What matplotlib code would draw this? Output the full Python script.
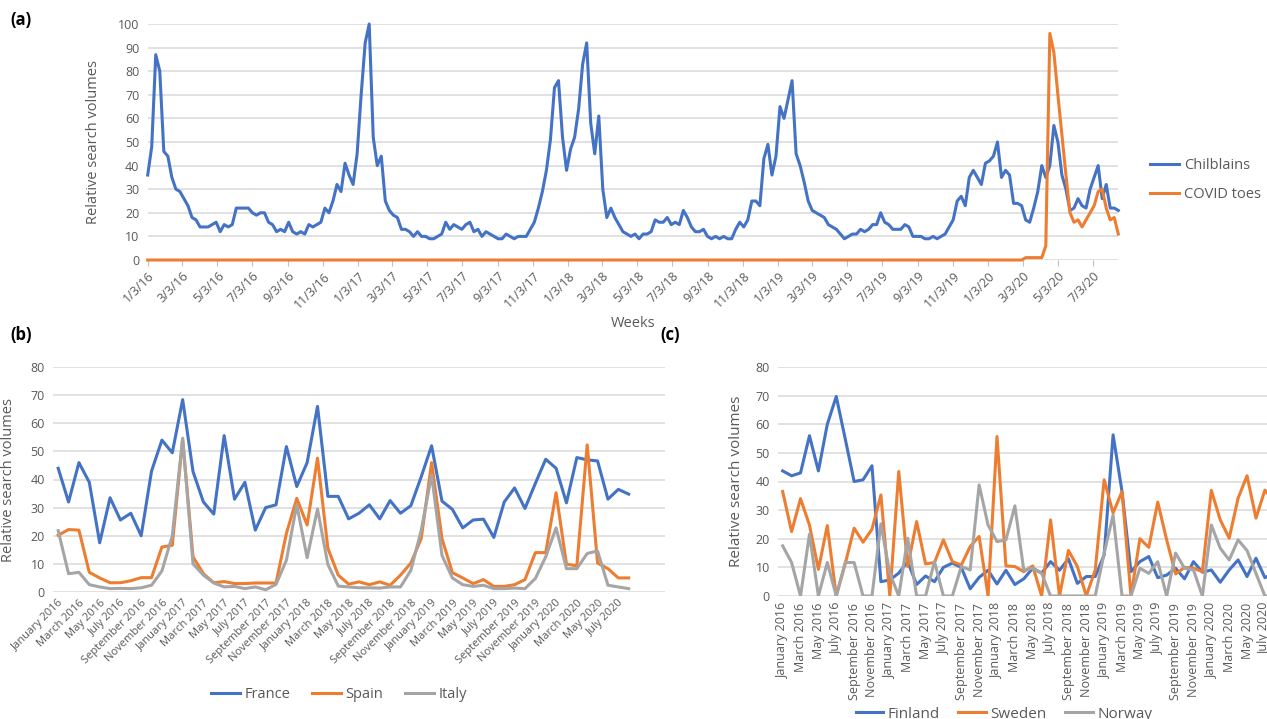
import matplotlib
matplotlib.use("Agg")
import matplotlib.pyplot as plt
import pandas as pd

plt.rcParams['font.family'] = ['Open Sans', 'DejaVu Sans']

W, H = 1267, 719
BLUE = '#4472C4'
ORANGE = '#ED7D31'
GRAY = '#A5A5A5'
GRID = '#D9D9D9'
TXT = '#595959'

# ---------------- Panel (a): weekly data ----------------
week_start = '2016-01-03'
chilblains = [
    36, 48, 87, 80, 46, 44, 35, 30, 29, 26, 23, 18, 17, 14, 14, 14, 15, 16, 12, 15,
    14, 15, 22, 22, 22, 22, 20, 19, 20, 20, 16, 15, 12, 13, 12, 16, 12, 11, 12, 11,
    15, 14, 15, 16, 22, 20, 25, 32,
    29, 41, 36, 32, 45, 70, 92, 100, 52, 40, 44, 25, 21, 19, 18, 13, 13, 12, 10, 12,
    10, 10, 9, 9, 10, 11, 16, 13, 15, 14, 13, 15, 16, 12, 13, 10, 12, 11, 10, 9,
    9, 11, 10, 9, 10, 10, 10, 13,
    16, 22, 29, 38, 51, 73, 76, 52, 38, 47, 52, 64, 83,
    92, 58, 45, 61, 30, 18, 22, 18, 15, 12, 11, 10, 11, 9, 11, 11, 12, 17, 16, 16,
    18, 15, 16, 15, 21, 18, 14, 12, 12, 13, 10, 9, 10, 9, 10, 9,
    9, 13, 16, 14, 17, 25, 25, 23, 43, 49, 36, 44, 65, 60, 68, 76, 45, 40, 33, 25,
    21, 20, 19, 18, 15, 14, 13, 11, 9, 10, 11, 11, 13, 12, 13, 15, 15, 20, 16, 15,
    13, 13, 13, 15, 14, 10, 10, 10, 9,
    9, 10, 9, 10, 11, 14, 17, 25, 27, 23, 35, 38, 35, 32, 41, 42, 44, 50, 35, 38,
    36, 24, 24, 23, 17, 16, 22, 29, 40, 35, 40, 57, 50, 36, 30, 21, 22, 26, 23, 22,
    30, 35, 40, 26, 32, 22, 22, 21,
]
covid_toes = [
    0, 0, 0, 0, 0, 0, 0, 0, 0, 0, 0, 0, 0, 0, 0, 0, 0, 0, 0, 0,
    0, 0, 0, 0, 0, 0, 0, 0, 0, 0, 0, 0, 0, 0, 0, 0, 0, 0, 0, 0,
    0, 0, 0, 0, 0, 0, 0, 0, 0, 0, 0, 0, 0, 0, 0, 0, 0, 0, 0, 0,
    0, 0, 0, 0, 0, 0, 0, 0, 0, 0, 0, 0, 0, 0, 0, 0, 0, 0, 0, 0,
    0, 0, 0, 0, 0, 0, 0, 0, 0, 0, 0, 0, 0, 0, 0, 0, 0, 0, 0, 0,
    0, 0, 0, 0, 0, 0, 0, 0, 0, 0, 0, 0, 0, 0, 0, 0, 0, 0, 0, 0,
    0, 0, 0, 0, 0, 0, 0, 0, 0, 0, 0, 0, 0, 0, 0, 0, 0, 0, 0, 0,
    0, 0, 0, 0, 0, 0, 0, 0, 0, 0, 0, 0, 0, 0, 0, 0, 0, 0, 0, 0,
    0, 0, 0, 0, 0, 0, 0, 0, 0, 0, 0, 0, 0, 0, 0, 0, 0, 0, 0, 0,
    0, 0, 0, 0, 0, 0, 0, 0, 0, 0, 0, 0, 0, 0, 0, 0, 0, 0, 0, 0,
    0, 0, 0, 0, 0, 0, 0, 0, 0, 0, 0, 0, 0, 0, 0, 0, 0, 0,
    1, 1, 1, 1, 1, 6, 96, 88, 70, 53, 36, 20, 16, 17, 14, 17, 20, 23, 29, 30,
    22, 17, 18, 11,
]

# ---------------- Panel (b): monthly, southern Europe ----------------
month_start_b = '2016-01-01'
france = [44, 32, 46, 39, 17.5, 33.5, 25.6, 28, 20, 43, 54, 49.5, 68.4, 42.8, 32, 27.7,
          55.6, 33, 39, 22, 30, 31, 51.7, 37.5, 46, 66, 34, 34, 26, 28, 31, 26, 32.5, 28,
          30.7, 41, 52, 32.3, 29.4, 22.8, 25.6, 25.9, 19.4, 32, 37, 29.7, 38.6, 47.2, 44,
          31.7, 47.8, 47, 46.6, 33, 36.5, 34.8]
spain = [20.2, 22.2, 22, 7, 5, 3.3, 3.3, 4, 5.1, 5.1, 16, 16.6, 54.3, 12.5, 6.5, 3.3,
         3.7, 3, 3, 3.2, 3.2, 3.2, 20.8, 33.3, 23.8, 47.6, 15.5, 6, 2.8, 3.6, 2.6, 3.6,
         2.4, 6, 10.3, 19, 46, 19, 6.9, 5, 3, 4.4, 2, 2, 2.6, 4.4, 14, 14, 35.3, 9.9,
         9.3, 52.3, 10.3, 8.3, 5, 5]
italy = [21.8, 6.5, 7, 2.6, 1.8, 1.2, 1.3, 1.2, 1.5, 2.4, 7.5, 20, 54.7, 10, 6, 3.2,
         1.8, 2, 1.2, 1.8, 0.8, 2.7, 11.3, 31, 12.2, 29.5, 9.8, 2.1, 1.8, 1.5, 1.5, 1.4,
         1.8, 1.8, 7.7, 22, 41.6, 13, 5, 2.6, 2, 2.4, 1.2, 1.2, 1.4, 1.2, 4.8, 12.5,
         22.8, 8.3, 8.3, 13.7, 14.6, 2.4, 1.8, 1.2]

# ---------------- Panel (c): monthly, Nordic ----------------
month_start_c = '2016-01-01'
finland = [43.7, 42, 43, 56, 43.7, 60, 69.7, 55, 40, 40.6, 45.5, 5, 5.6, 8, 12, 4, 7, 5,
           10, 11.5, 10, 2.5, 6.5, 9, 4.2, 9, 4, 6, 9.7, 8, 12, 9, 13, 4.4, 6.8, 6.8,
           14.3, 56.3, 36.5, 8.5, 12, 13.8, 6.4, 7.3, 9.7, 6, 12, 8.3, 9.1, 4.8, 9.1,
           12.6, 6.8, 13.2, 6.4, 8]
sweden = [36.5, 22.5, 34, 24.8, 9.3, 24.6, 0, 11.2, 23.7, 18.8, 23.3, 35.3, 0, 43.5,
          10.3, 26, 11.2, 11.7, 19.6, 12, 10.8, 17.3, 20.8, 0, 55.7, 10.5, 10.3, 8.5,
          10.5, 0, 26.6, 0, 15.9, 10.3, 0, 9.1, 40.6, 29, 36.5, 0, 20, 17, 32.8, 19.6,
          7.7, 10, 9.7, 8.5, 36.9, 26.6, 20.2, 34.2, 42, 27.2, 37, 33]
norway = [17.5, 11.7, 0, 21.6, 0, 11.7, 0, 11.7, 11.7, 0, 0, 25.2, 7.9, 0, 20.2, 0, 0,
          12, 0, 0, 10.3, 9.1, 38.8, 24.8, 19, 19.6, 31.5, 9, 9.7, 7.9, 0, 0, 0, 0, 0,
          0, 15, 28.3, 0, 0, 9.7, 7.9, 12, 0, 15, 9.7, 9.1, 0, 24.8, 16.7, 12.6, 19.6,
          15.9, 7.9, 0, 0]

ylabel = 'Relative search volumes'

fig = plt.figure(figsize=(W / 100, H / 100), dpi=100)
fig.patch.set_facecolor('white')


def px_axes(left, top, right, bottom):
    return fig.add_axes([left / W, 1 - bottom / H, (right - left) / W, (bottom - top) / H])


def style(ax, ymax, ystep, fs):
    ax.set_ylim(0, ymax)
    ax.set_yticks(range(0, ymax + 1, ystep))
    ax.grid(axis='y', color=GRID, linewidth=1.1)
    ax.set_axisbelow(True)
    for s in ax.spines.values():
        s.set_visible(False)
    ax.tick_params(axis='y', length=0, labelsize=fs, labelcolor=TXT, pad=6)


# ---- (a)
weeks = pd.date_range(week_start, periods=len(chilblains), freq='7D')
ax_a = px_axes(147.7, 24, 1118.3, 260)
style(ax_a, 100, 10, 9)
ax_a.set_xlim(weeks[0], weeks[-1])
ax_a.plot(weeks, chilblains, color=BLUE, lw=2.2, label='Chilblains', clip_on=False,
          solid_joinstyle='round')
ax_a.plot(weeks, covid_toes, color=ORANGE, lw=2.2, label='COVID toes', clip_on=False,
          solid_joinstyle='round')
a_ticks = [pd.Timestamp(y, m, 3) for y in range(2016, 2021) for m in (1, 3, 5, 7, 9, 11)
           if pd.Timestamp(y, m, 3) <= weeks[-1]]
ax_a.set_xticks(a_ticks)
ax_a.set_xticklabels([f"{d.month}/{d.day}/{d.year % 100:02d}" for d in a_ticks],
                     rotation=45, ha='right', va='top', rotation_mode='anchor')
ax_a.tick_params(axis='x', length=4, color='#BFBFBF', labelsize=9, labelcolor=TXT, pad=3)
ax_a.set_ylabel(ylabel, fontsize=10.5, color=TXT, labelpad=12)
ax_a.set_xlabel('Weeks', fontsize=10.5, color=TXT, labelpad=4)
ax_a.legend(loc='center left', bbox_to_anchor=(1137 / W, 1 - 180 / H),
            bbox_transform=fig.transFigure, frameon=False, fontsize=10.5,
            labelcolor=TXT, handlelength=2.0, handletextpad=0.3, labelspacing=0.95)

# ---- (b)
months_b = pd.date_range(month_start_b, periods=len(france), freq='MS')
labels_b = [d.strftime('%B %Y') for d in months_b]
xb = list(range(len(france)))
ax_b = px_axes(53, 367, 665, 592)
style(ax_b, 80, 10, 9)
ax_b.set_xlim(-0.5, 58.5)
ax_b.plot(xb, france, color=BLUE, lw=2.2, label='France', solid_joinstyle='round')
ax_b.plot(xb, spain, color=ORANGE, lw=2.2, label='Spain', solid_joinstyle='round')
ax_b.plot(xb, italy, color=GRAY, lw=2.2, label='Italy', solid_joinstyle='round')
ax_b.set_xticks(xb[::2])
ax_b.set_xticklabels(labels_b[::2], rotation=45, ha='right', va='top',
                     rotation_mode='anchor')
ax_b.tick_params(axis='x', length=0, labelsize=8, labelcolor=TXT, pad=4)
ax_b.set_ylabel(ylabel, fontsize=10.5, color=TXT, labelpad=10)
ax_b.legend(loc='center', bbox_to_anchor=(339 / W, 1 - 695 / H),
            bbox_transform=fig.transFigure, frameon=False, fontsize=10.5, ncol=3,
            labelcolor=TXT, handlelength=2.0, handletextpad=0.3, columnspacing=1.5)

# ---- (c)
months_c = pd.date_range(month_start_c, periods=len(finland), freq='MS')
labels_c = [d.strftime('%B %Y') for d in months_c]
xc = list(range(len(finland)))
ax_c = px_axes(778.2, 367, 1278.3, 596)
style(ax_c, 80, 10, 9)
ax_c.set_xlim(-0.5, 55.5)
ax_c.plot(xc, finland, color=BLUE, lw=2.2, label='Finland', solid_joinstyle='round')
ax_c.plot(xc, sweden, color=ORANGE, lw=2.2, label='Sweden', solid_joinstyle='round')
ax_c.plot(xc, norway, color=GRAY, lw=2.2, label='Norway', solid_joinstyle='round')
ax_c.set_xticks(xc[::2])
ax_c.set_xticklabels(labels_c[::2], rotation=90, ha='center', va='top')
ax_c.tick_params(axis='x', length=0, labelsize=9, labelcolor=TXT, pad=5)
ax_c.set_ylabel(ylabel, fontsize=11, color=TXT, labelpad=8)
ax_c.legend(loc='center', bbox_to_anchor=(1004 / W, 1 - 714 / H),
            bbox_transform=fig.transFigure, frameon=False, fontsize=11, ncol=3,
            labelcolor=TXT, handlelength=1.8, handletextpad=0.3, columnspacing=1.2)

# panel letters
fig.text(10 / W, 1 - 20 / H, '(a)', fontsize=12, fontweight='bold', va='center', ha='left')
fig.text(10 / W, 1 - 335 / H, '(b)', fontsize=12, fontweight='bold', va='center', ha='left')
fig.text(660 / W, 1 - 335 / H, '(c)', fontsize=12, fontweight='bold', va='center', ha='left')

fig.savefig('out.png', dpi=100)
